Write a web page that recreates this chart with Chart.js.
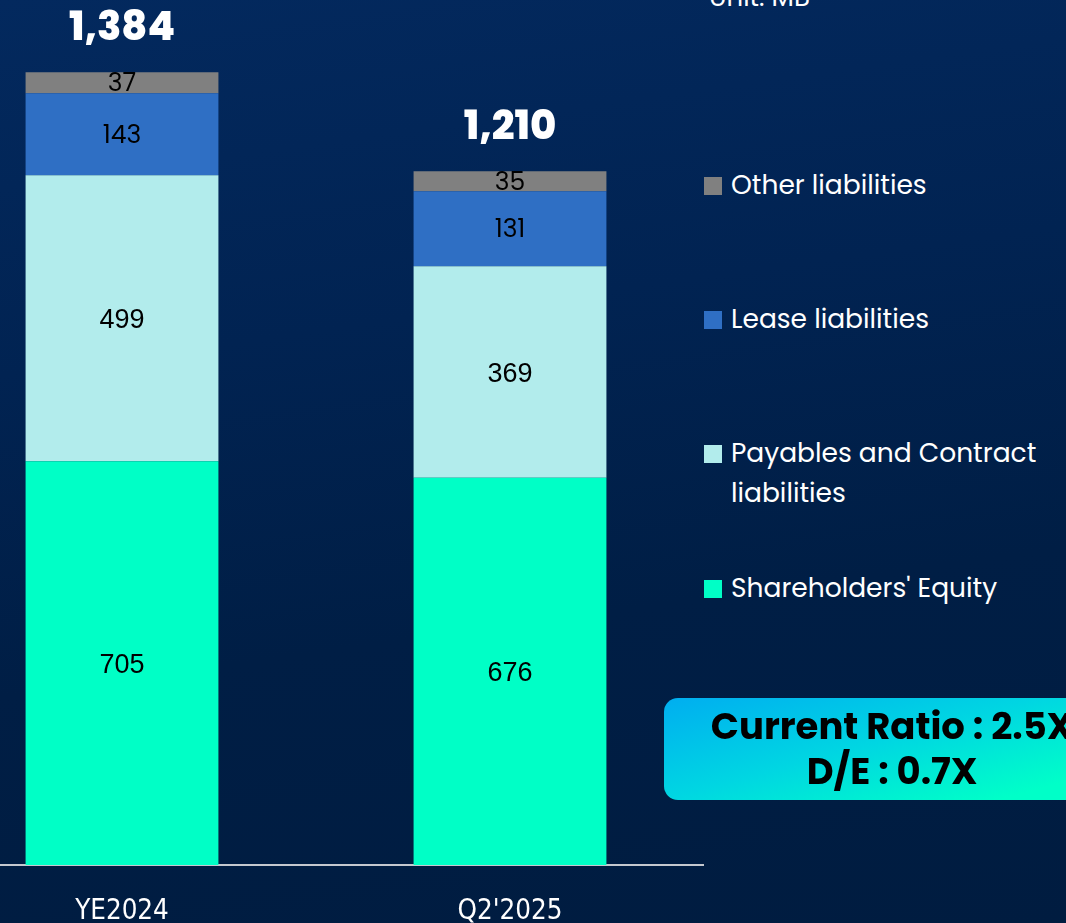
<!DOCTYPE html>
<html>
<head>
<meta charset="utf-8">
<script src="https://cdn.jsdelivr.net/npm/chart.js@4.4.1/dist/chart.umd.min.js"></script>
<style>
  html, body { margin: 0; padding: 0; }
  body {
    width: 1066px; height: 923px; overflow: hidden; position: relative;
    background: linear-gradient(172deg, #03295e 0%, #012352 35%, #001e45 65%, #001c40 100%);
    font-family: Poppins, Inter, "Noto Sans", sans-serif;
  }
  #wrap { position: absolute; left: -72px; top: 0; width: 776px; height: 923px; }
  .unit { position: absolute; left: 709px; top: -22px; color: #fff; font-size: 26px; }
  .legend-item { position: absolute; left: 704px; color: #fff; font-size: 26.5px; line-height: 40px; }
  .legend-item .box { position: absolute; left: 0; top: 12px; width: 18px; height: 18px; }
  .legend-item .txt { margin-left: 27px; display: block; width: 330px; }
  .ratio {
    position: absolute; left: 664px; top: 698px; width: 460px; height: 102px;
    border-radius: 14px;
    background: linear-gradient(165deg, #00aef0 0%, #00d6e2 45%, #00ffc8 85%);
    color: #000; font-weight: 700; font-size: 37px; line-height: 45px;
    text-align: center; box-sizing: border-box; padding-top: 6px; padding-right: 4px;
  }
</style>
</head>
<body>
<div id="wrap"><canvas id="bsChart"></canvas></div>
<div class="unit">Unit: MB</div>
<div id="legend"></div>
<div class="ratio">Current Ratio : 2.5X<br>D/E : 0.7X</div>
<script>
const periods = ['YE2024', "Q2'2025"];
const seriesNames = ["Shareholders' Equity", 'Payables and Contract liabilities', 'Lease liabilities', 'Other liabilities'];
const equity = [705, 676];
const payables = [499, 369];
const lease = [143, 131];
const other = [37, 35];
const totals = [1384, 1210];
const seriesColors = ['#00ffc6', '#b2ecec', '#2f6fc4', '#808080'];
// the labels in the two lower bands use a plain sans face, the upper two Poppins
const labelFonts = [
    '400 27px "Liberation Sans", Arial, sans-serif',
    '400 27px "Liberation Sans", Arial, sans-serif',
    '400 25px Poppins, Inter, sans-serif',
    '400 25px Poppins, Inter, sans-serif'
];

// legend (drawn top to bottom in reverse order)
const legendTops = [568, 433, 299, 165];
const legendEl = document.getElementById('legend');
seriesNames.forEach(function(name, i) {
    const item = document.createElement('div');
    item.className = 'legend-item';
    item.style.top = legendTops[i] + 'px';
    item.innerHTML = '<span class="box" style="background:' + seriesColors[i] + '"></span><span class="txt">' + name + '</span>';
    legendEl.appendChild(item);
});

const barLabels = {
    id: 'barLabels',
    afterDatasetsDraw(chart) {
        const ctx = chart.ctx;
        ctx.save();
        ctx.textAlign = 'center';
        ctx.textBaseline = 'middle';
        ctx.fillStyle = '#000';
        chart.data.datasets.forEach(function(ds, di) {
            ctx.font = labelFonts[di];
            chart.getDatasetMeta(di).data.forEach(function(bar, i) {
                const mid = (bar.y + bar.base) / 2;
                ctx.fillText(ds.data[i], bar.x, mid + 2);
            });
        });
        // totals above the stacks
        const top = chart.getDatasetMeta(chart.data.datasets.length - 1).data;
        ctx.fillStyle = '#fff';
        ctx.font = '800 40px Poppins, Inter, "Noto Sans", sans-serif';
        top.forEach(function(bar, i) {
            ctx.fillText(totals[i].toLocaleString('en-US'), bar.x, bar.y - 42);
        });
        ctx.restore();
    }
};

const bsData = {
    labels: periods,
    datasets: [
        { label: seriesNames[0], data: equity, backgroundColor: seriesColors[0] },
        { label: seriesNames[1], data: payables, backgroundColor: seriesColors[1] },
        { label: seriesNames[2], data: lease, backgroundColor: seriesColors[2] },
        { label: seriesNames[3], data: other, backgroundColor: seriesColors[3] },
    ]
};

const bsConfig = {
    type: 'bar',
    data: bsData,
    options: {
        responsive: true,
        maintainAspectRatio: false,
        animation: false,
        layout: { padding: 0 },
        datasets: {
            bar: { categoryPercentage: 1, barPercentage: 0.497 }
        },
        scales: {
            x: {
                stacked: true,
                grid: { display: false },
                border: { display: true, color: '#c4c8cf', width: 2 },
                ticks: {
                    color: '#fff',
                    padding: 22,
                    font: { family: '"Liberation Sans Narrow", "DejaVu Sans Condensed", Roboto, sans-serif', size: 27.5 }
                },
                afterFit: function(scale) { scale.height = 58; }
            },
            y: {
                stacked: true,
                display: false,
                min: 0,
                max: 1510,
            }
        },
        plugins: {
            legend: { display: false },
            tooltip: { enabled: false }
        }
    },
    plugins: [barLabels]
};

const bsCtx = document.getElementById('bsChart').getContext('2d');
new Chart(bsCtx, bsConfig);
</script>
</body>
</html>
